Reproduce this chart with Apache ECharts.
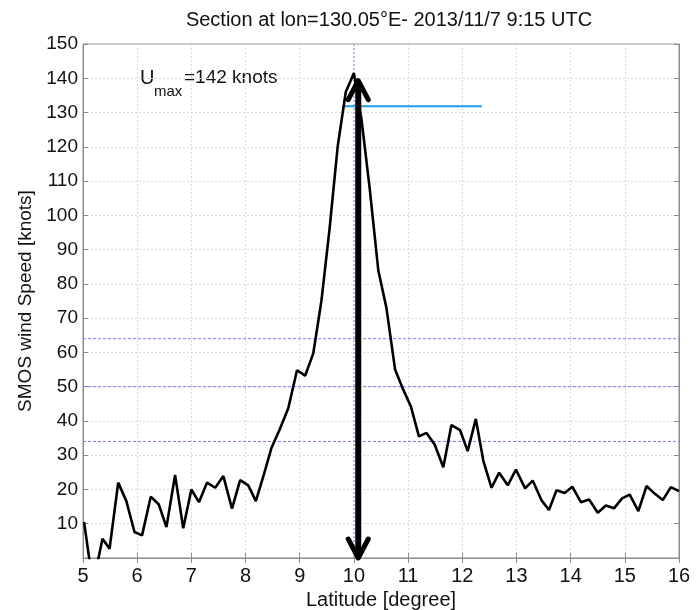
<!DOCTYPE html>
<html>
<head>
<meta charset="utf-8">
<script src="https://cdn.jsdelivr.net/npm/echarts@6/dist/echarts.min.js"></script>
<style>
  html, body { margin: 0; padding: 0; background: #fff; }
  #chart { width: 699px; height: 610px; }
</style>
</head>
<body>
<div id="chart"></div>
<script>
// SMOS wind speed section
var lat = [5.02, 5.14, 5.26, 5.36, 5.49, 5.65, 5.80, 5.95, 6.09, 6.25, 6.40, 6.54, 6.70, 6.85,
    7.00, 7.14, 7.29, 7.44, 7.59, 7.75, 7.90, 8.05, 8.19, 8.34, 8.48, 8.63, 8.79, 8.95,
    9.10, 9.25, 9.40, 9.55, 9.70, 9.85, 10.00, 10.14, 10.29, 10.45, 10.60, 10.76, 10.90,
    11.05, 11.20, 11.34, 11.49, 11.65, 11.80, 11.96, 12.10, 12.25, 12.39, 12.54, 12.68,
    12.84, 12.99, 13.16, 13.30, 13.46, 13.60, 13.74, 13.89, 14.03, 14.19, 14.34, 14.50,
    14.65, 14.80, 14.95, 15.09, 15.25, 15.40, 15.55, 15.70, 15.85, 16.00];
var speed = [10.5, -3, -2, 5.6, 2.7, 22, 16.6, 7.6, 6.6, 17.9, 15.6, 9, 24.2, 8.7,
    20, 16.3, 22, 20.5, 23.9, 14.4, 22.7, 21.2, 16.6, 24.5, 32.2, 37.5, 43.8, 54.8,
    53.2, 59.7, 75, 96, 120, 136, 141.5, 128, 108, 84, 73, 55, 49.5,
    44.3, 35.5, 36.5, 33.1, 26.5, 38.8, 37.3, 31.2, 40.6, 28.3, 20.5, 24.9,
    21.2, 25.8, 20.3, 22.6, 16.9, 14, 19.8, 19, 20.8, 16.3, 17.1, 13.2,
    15.3, 14.5, 17.4, 18.5, 13.7, 21, 18.8, 16.9, 20.7, 19.5];

// storm category thresholds (knots) and the marked centre latitude
var thresholds = [34, 50, 64];
var centreLat = 10;
// cyan level line [x1, x2, y]
var levelLine = [9.80, 12.36, 131.8];
// double arrow [x, yBottom, yTop]
var arrow = [10.08, 0, 139.3];

var fontFam = '"Liberation Sans", Arial, sans-serif';
var guideColor = '#7b7bff';

var seriesdata = [];
for (var i = 0; i < lat.length; i++) {
    seriesdata.push([lat[i], speed[i]]);
}

var series = [];
for (var j = 0; j < thresholds.length; j++) {
    series.push({
        name: 'th' + thresholds[j],
        type: 'line',
        showSymbol: false,
        silent: true,
        lineStyle: { color: guideColor, width: 1, type: [3, 2] },
        data: [[5, thresholds[j]], [16, thresholds[j]]],
        z: 1
    });
}
series.push({
    name: 'centre',
    type: 'line',
    showSymbol: false,
    silent: true,
    lineStyle: { color: '#8a8aff', width: 1, type: [2, 2] },
    data: [[centreLat, 0], [centreLat, 150]],
    z: 1
});
series.push({
    name: 'level',
    type: 'line',
    showSymbol: false,
    lineStyle: { color: '#1ba1e2', width: 2 },
    data: [[levelLine[0], levelLine[2]], [levelLine[1], levelLine[2]]],
    z: 2
});
series.push({
    name: 'SMOS',
    type: 'line',
    showSymbol: false,
    clip: true,
    lineStyle: { color: '#000', width: 2.6 },
    data: seriesdata,
    z: 3
});
series.push({
    name: 'arrow',
    type: 'custom',
    clip: false,
    z: 4,
    data: [arrow],
    renderItem: function (params, api) {
        var top = api.coord([api.value(0), api.value(2)]);
        var bot = api.coord([api.value(0), api.value(1)]);
        var w = 10, h = 19;
        return {
            type: 'group',
            children: [
                {
                    type: 'line',
                    shape: { x1: top[0], y1: top[1] + 4, x2: bot[0], y2: bot[1] - 4 },
                    style: { stroke: '#000', lineWidth: 6 }
                },
                {
                    type: 'polyline',
                    shape: { points: [[top[0] - w, top[1] + h], [top[0], top[1]], [top[0] + w, top[1] + h]] },
                    style: { stroke: '#000', lineWidth: 5, fill: null, lineJoin: 'round', lineCap: 'round' }
                },
                {
                    type: 'polyline',
                    shape: { points: [[bot[0] - w, bot[1] - h], [bot[0], bot[1]], [bot[0] + w, bot[1] - h]] },
                    style: { stroke: '#000', lineWidth: 5, fill: null, lineJoin: 'round', lineCap: 'round' }
                }
            ]
        };
    }
});

var myChart = echarts.init(document.getElementById('chart'));
var option = {
    backgroundColor: '#FFFFFF',
    animation: false,
    title: {
        text: 'Section at lon=130.05°E- 2013/11/7 9:15 UTC',
        left: 384,
        top: 5,
        textAlign: 'center',
        textStyle: { fontFamily: fontFam, fontSize: 20, fontWeight: 'normal', color: '#111' }
    },
    grid: {
        left: 83,
        right: 20,
        top: 44,
        bottom: 52,
        outerBoundsMode: 'none',
        show: true,
        borderColor: '#8c8c8c',
        borderWidth: 1
    },
    xAxis: [
        {
            type: 'value',
            min: 5,
            max: 16,
            interval: 1,
            name: 'Latitude [degree]',
            nameLocation: 'middle',
            nameGap: 31,
            nameTextStyle: { fontFamily: fontFam, fontSize: 20, color: '#111' },
            axisLine: { lineStyle: { color: '#8c8c8c' } },
            axisTick: { inside: true, length: 5, lineStyle: { color: '#8c8c8c' } },
            axisLabel: { fontFamily: fontFam, fontSize: 20, color: '#111', margin: 8 },
            splitLine: { show: true, lineStyle: { color: '#d9d9d9', type: [2, 2] } }
        },
        {
            type: 'value',
            position: 'top',
            min: 5,
            max: 16,
            interval: 1,
            axisLine: { lineStyle: { color: '#8c8c8c' } },
            axisTick: { inside: true, length: 5, lineStyle: { color: '#8c8c8c' } },
            axisLabel: { show: false },
            splitLine: { show: false }
        }
    ],
    yAxis: [
        {
            type: 'value',
            min: 0,
            max: 150,
            interval: 10,
            name: 'SMOS wind Speed [knots]',
            nameLocation: 'middle',
            nameGap: 40,
            nameTextStyle: { fontFamily: fontFam, fontSize: 19, color: '#111' },
            axisLine: { show: true, lineStyle: { color: '#8c8c8c' } },
            axisTick: { show: true, inside: true, length: 5, lineStyle: { color: '#8c8c8c' } },
            axisLabel: {
                fontFamily: fontFam, fontSize: 19, color: '#111', margin: 5,
                formatter: function (v) { return v === 0 ? '' : v; }
            },
            splitLine: { show: true, lineStyle: { color: '#d9d9d9', type: [2, 2] } }
        },
        {
            type: 'value',
            position: 'right',
            min: 0,
            max: 150,
            interval: 10,
            axisLine: { show: true, lineStyle: { color: '#8c8c8c' } },
            axisTick: { show: true, inside: true, length: 5, lineStyle: { color: '#8c8c8c' } },
            axisLabel: { show: false },
            splitLine: { show: false }
        }
    ],
    graphic: [
        { type: 'text', left: 140, top: 68, style: { text: 'U', font: '20px ' + fontFam, fill: '#111' } },
        { type: 'text', left: 154, top: 84, style: { text: 'max', font: '15px ' + fontFam, fill: '#111' } },
        { type: 'text', left: 184, top: 68, style: { text: '=142 knots', font: '19px ' + fontFam, fill: '#111' } }
    ],
    series: series
};
myChart.setOption(option);
</script>
</body>
</html>
